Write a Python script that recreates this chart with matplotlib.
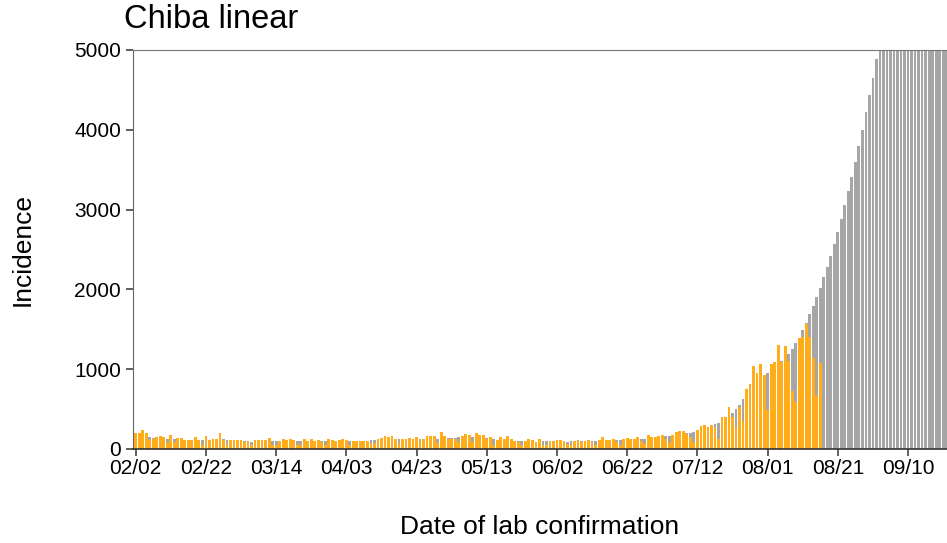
import numpy as np
import pandas as pd
import matplotlib
matplotlib.use("Agg")
import matplotlib.pyplot as plt

plt.rcParams['font.family'] = ['Liberation Sans', 'DejaVu Sans']

start = "2021-02-02"

# reported cases per day (lab confirmation), from 02/02
observed = [
    200, 200, 233, 200, 108, 130, 146, 158, 150, 75,
    170, 88, 133, 142, 117, 108, 108, 150, 108, 54,
    158, 117, 130, 125, 200, 108, 54, 117, 108, 108,
    108, 88, 100, 54, 108, 108, 108, 108, 142, 54,
    54, 96, 121, 108, 125, 117, 54, 54, 121, 96,
    125, 96, 117, 88, 54, 125, 108, 96, 108, 130,
    108, 54, 96, 96, 104, 96, 104, 63, 80, 121,
    138, 167, 146, 163, 121, 63, 130, 130, 142, 130,
    150, 96, 130, 167, 158, 167, 75, 208, 158, 120,
    120, 120, 88, 167, 192, 171, 88, 200, 171, 179,
    130, 150, 54, 108, 146, 121, 163, 121, 104, 88,
    54, 104, 130, 117, 88, 125, 54, 54, 104, 104,
    117, 108, 96, 63, 54, 96, 108, 88, 96, 108,
    88, 54, 117, 150, 117, 108, 121, 92, 50, 121,
    138, 121, 121, 150, 100, 58, 175, 150, 154, 162,
    175, 121, 71, 175, 212, 225, 221, 187, 154, 83,
    238, 288, 300, 271, 300, 258, 121, 404, 404, 521,
    404, 279, 521, 350, 758, 812, 1042, 954, 1071, 925,
    488, 1062, 1092, 1308, 1092, 1288, 1100, 729, 592, 1396,
    1404, 1562, 1404, 1142, 667, 1079,
]

# model incidence (fit + projection)
model = [
    180, 175, 170, 160, 146, 140, 138, 135, 133, 130,
    130, 130, 128, 125, 115, 108, 108, 110, 108, 108,
    112, 117, 115, 112, 112, 120, 108, 105, 102, 100,
    98, 96, 96, 92, 92, 92, 94, 95, 96, 96,
    96, 96, 98, 100, 100, 100, 96, 96, 98, 98,
    98, 96, 96, 96, 96, 98, 100, 96, 98, 100,
    100, 96, 96, 96, 98, 98, 100, 108, 108, 110,
    112, 115, 118, 120, 120, 121, 122, 124, 126, 128,
    130, 130, 125, 128, 130, 130, 130, 132, 132, 140,
    140, 140, 146, 146, 146, 146, 150, 146, 142, 138,
    138, 132, 130, 117, 112, 110, 108, 106, 104, 104,
    96, 96, 96, 96, 88, 94, 96, 96, 96, 96,
    94, 92, 90, 88, 96, 95, 95, 96, 96, 96,
    96, 96, 100, 104, 106, 108, 110, 112, 112, 114,
    116, 118, 120, 122, 125, 125, 130, 135, 140, 145,
    150, 158, 167, 172, 180, 186, 192, 200, 204, 212,
    222, 240, 255, 270, 290, 308, 321, 350, 380, 420,
    454, 496, 546, 621, 680, 740, 800, 850, 900, 920,
    958, 1000, 1040, 1070, 1100, 1150, 1196, 1258, 1329, 1390,
    1488, 1579, 1687, 1787, 1904, 2021, 2150, 2283, 2421, 2567,
    2721, 2888, 3058, 3229, 3413, 3600, 3800, 4000, 4217, 4433,
    4654, 4883, 5120, 5360, 5610, 5870, 6140, 6420, 6710, 7010,
    7320, 7640, 7970, 8310, 8660, 9020, 9390, 9770, 10160, 10560,
    10970, 11390,
]

yticks = [0, 1000, 2000, 3000, 4000, 5000]

d_obs = pd.date_range(start, periods=len(observed), freq="D")
d_mod = pd.date_range(start, periods=len(model), freq="D")
d_ticks = pd.date_range(start, periods=12, freq="20D")

fig = plt.figure(figsize=(9.47, 5.43), dpi=100)
ax = fig.add_axes([133 / 947, 1 - 449 / 543, 814 / 947, 399 / 543])

ax.bar(d_mod, model, width=0.8, color="#a6a6a6", zorder=1)
ax.bar(d_obs, observed, width=0.8, color="#ffad1a", zorder=2)

t0 = pd.Timestamp(start)
ax.set_xlim(t0 - pd.Timedelta(days=0.77), t0 + pd.Timedelta(days=231.1))
ax.set_ylim(0, 5000)

ax.set_xticks(d_ticks)
ax.set_xticklabels(d_ticks.strftime("%m/%d"))
ax.set_yticks(yticks)
ax.tick_params(labelsize=15, length=5, width=1.1, color="#333333", labelcolor="black")
ax.tick_params(axis="x", pad=2)

ax.spines["right"].set_visible(False)
ax.spines["top"].set_color("#777777")
ax.spines["left"].set_color("#666666")
ax.spines["bottom"].set_color("#333333")
ax.spines["bottom"].set_linewidth(1.2)

fig.text(124 / 947, 1 - 19 / 543, "Chiba linear", fontsize=23.5, va="center", ha="left")
fig.text(540 / 947, 1 - 527 / 543, "Date of lab confirmation", fontsize=19, va="center", ha="center")
fig.text(23 / 947, 1 - 249 / 543, "Incidence", fontsize=19, va="center", ha="center", rotation=90)

plt.savefig("out.png", dpi=100)
